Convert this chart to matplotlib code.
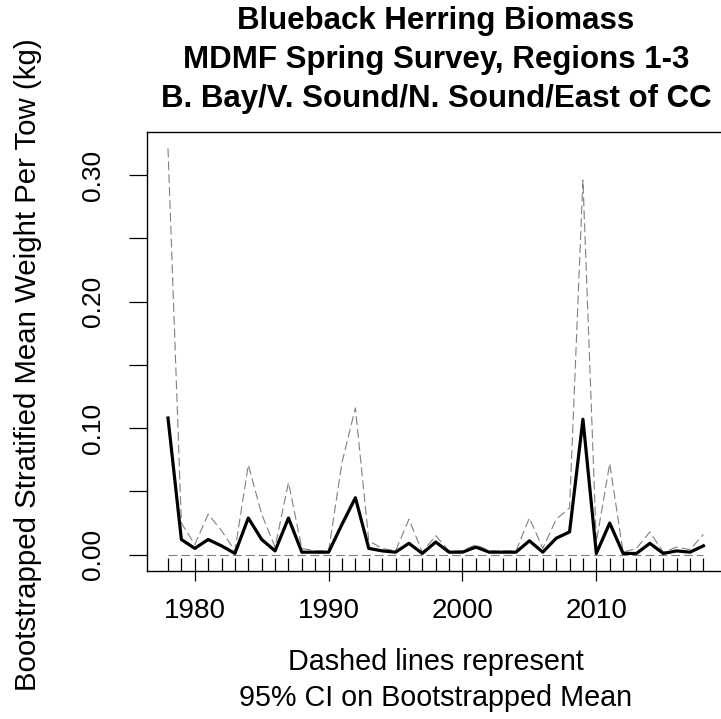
import numpy as np
import matplotlib
matplotlib.use("Agg")
import matplotlib.pyplot as plt

plt.rcParams['font.family'] = ['Liberation Sans', 'DejaVu Sans']

# survey years
years = list(range(1978, 2019))

# bootstrapped stratified mean weight per tow (kg)
mean_wt = [0.108, 0.012, 0.005, 0.012, 0.007, 0.001, 0.029, 0.012, 0.003, 0.029,
           0.002, 0.002, 0.002, 0.024, 0.045, 0.005, 0.003, 0.002, 0.009, 0.001,
           0.010, 0.002, 0.002, 0.006, 0.002, 0.002, 0.002, 0.011, 0.002, 0.013,
           0.018, 0.107, 0.001, 0.025, 0.001, 0.001, 0.009, 0.001, 0.003, 0.002,
           0.007]

# 95% CI bounds
upper_ci = [0.321, 0.025, 0.008, 0.032, 0.019, 0.003, 0.071, 0.032, 0.006, 0.057,
            0.005, 0.003, 0.003, 0.073, 0.116, 0.011, 0.005, 0.003, 0.028, 0.002,
            0.015, 0.003, 0.003, 0.008, 0.003, 0.003, 0.003, 0.029, 0.005, 0.028,
            0.037, 0.296, 0.010, 0.072, 0.002, 0.005, 0.018, 0.002, 0.006, 0.004,
            0.016]
lower_ci = [0.0] * 41

fig = plt.figure(figsize=(7.21, 7.19), dpi=100)
ax = fig.add_axes([0.2033, 0.2058, 0.802, 0.6106])

ax.plot(years, upper_ci, color='0.5', lw=0.8, dashes=(8, 3.6))
ax.plot(years, lower_ci, color='0.5', lw=0.8, dashes=(8, 3.6))
ax.plot(years, mean_wt, color='black', lw=2.3)

ax.set_xlim(1976.4, 2019.6)
ax.set_ylim(-0.0129, 0.334)

ax.set_xticks([1980, 1990, 2000, 2010])
ax.set_xticks(years, minor=True)
ax.xaxis.remove_overlapping_locs = False
ax.tick_params(axis='x', which='major', direction='out', length=7.2, width=0.9,
               labelsize=20, pad=12.5)
ax.tick_params(axis='x', which='minor', direction='in', length=9.4, width=0.9)

yt = np.arange(0, 0.301, 0.05)
ax.set_yticks(yt)
ax.set_yticklabels(['0.00', '', '0.10', '', '0.20', '', '0.30'], rotation=90,
                   va='center')
ax.tick_params(axis='y', direction='out', length=13, width=0.9, labelsize=19, pad=17)

for s in ax.spines.values():
    s.set_linewidth(1.0)

cx = 436 / 721
fig.text(cx, 1 - 662 / 719, 'Dashed lines represent', ha='center', va='center',
         fontsize=20.7)
fig.text(cx, 1 - 698 / 719, '95% CI on Bootstrapped Mean', ha='center',
         va='center', fontsize=20.7)
fig.text(28 / 721, 1 - 365 / 719, 'Bootstrapped Stratified Mean Weight Per Tow (kg)',
         rotation=90, ha='center', va='center', fontsize=21.2)

fig.text(cx, 1 - 21 / 719, 'Blueback Herring Biomass', ha='center', va='center',
         fontsize=22.5, fontweight='bold')
fig.text(cx, 1 - 60 / 719, 'MDMF Spring Survey, Regions 1-3', ha='center',
         va='center', fontsize=22.5, fontweight='bold')
fig.text(cx, 1 - 99 / 719, 'B. Bay/V. Sound/N. Sound/East of CC', ha='center',
         va='center', fontsize=22.5, fontweight='bold')

fig.savefig('out.png', dpi=100)
